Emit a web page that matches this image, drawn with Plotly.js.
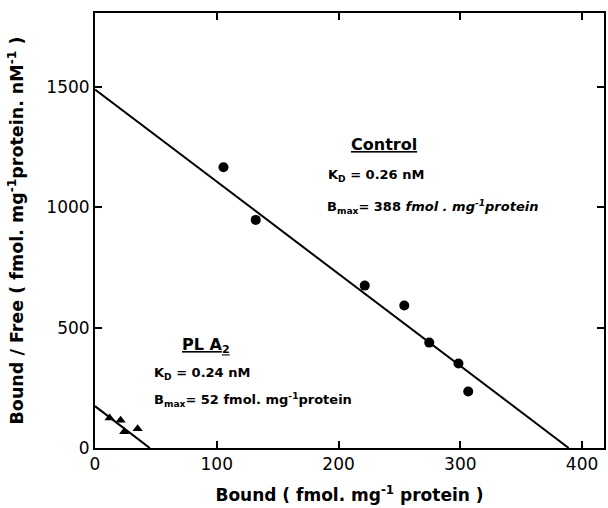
<!DOCTYPE html>
<html>
<head>
<meta charset="utf-8">
<script src="https://cdn.plot.ly/plotly-3.0.1.min.js"></script>
<style>html,body{margin:0;padding:0;background:#fff;}#chart{width:608px;height:508px;}</style>
</head>
<body>
<div id="chart"></div>
<script>
// Control data (Scatchard plot)
var controlBound = [105.5, 132, 221.5, 254, 274.5, 298.5, 306.5];
var controlBF    = [1167, 948, 675, 592, 438, 351, 235];
// Control fitted line endpoints
var controlLineX = [0, 389];
var controlLineY = [1490, 0];
// PL A2 data
var plaBound = [12, 21, 24, 35];
var plaBF    = [125, 115, 68, 80];
// PL A2 fitted line endpoints
var plaLineX = [0, 45];
var plaLineY = [174, 0];

var xTicks = [0, 100, 200, 300, 400];
var yTicks = [0, 500, 1000, 1500];

var FONT = "DejaVu Sans, sans-serif";

var traces = [
  {x: controlLineX, y: controlLineY, mode: 'lines', line: {color: '#000', width: 2}, hoverinfo: 'skip'},
  {x: plaLineX, y: plaLineY, mode: 'lines', line: {color: '#000', width: 2}, hoverinfo: 'skip'},
  {x: controlBound, y: controlBF, mode: 'markers', marker: {symbol: 'circle', size: 10, color: '#000'}},
  {x: plaBound, y: plaBF, mode: 'markers', marker: {symbol: 'triangle-up', size: 9, color: '#000'}}
];

var ann = function(x, y, text, size) {
  return {x: x, y: y, xref: 'x', yref: 'y', text: text, showarrow: false,
          xanchor: 'left', yanchor: 'middle', font: {family: FONT, size: size, color: '#000'}};
};

var layout = {
  width: 608, height: 508,
  margin: {l: 95, r: 4, t: 13, b: 60},
  paper_bgcolor: '#fff', plot_bgcolor: '#fff',
  showlegend: false,
  xaxis: {
    range: [0, 418], tickvals: xTicks, ticktext: xTicks.map(String),
    ticks: 'inside', ticklen: 7, tickwidth: 2, tickcolor: '#000',
    showline: true, linecolor: '#000', linewidth: 2, mirror: 'ticks',
    showgrid: false, zeroline: false,
    tickfont: {family: FONT, size: 17, color: '#000'},
    title: {text: '<b>Bound ( fmol. mg<sup>-1</sup> protein )</b>', font: {family: FONT, size: 17, color: '#000'}, standoff: 16}
  },
  yaxis: {
    range: [0, 1808], tickvals: yTicks, ticktext: yTicks.map(String),
    ticks: 'inside', ticklen: 7, tickwidth: 2, tickcolor: '#000',
    showline: true, linecolor: '#000', linewidth: 2, mirror: 'ticks',
    showgrid: false, zeroline: false,
    tickfont: {family: FONT, size: 17, color: '#000'},
    title: {text: '<b>Bound / Free ( fmol. mg<sup>-1</sup>protein. nM<sup>-1</sup> )</b>', font: {family: FONT, size: 17.5, color: '#000'}, standoff: 18}
  },
  annotations: [
    {x: 237, y: 1262, xref: 'x', yref: 'y', text: '<b><u>Control</u></b>', showarrow: false, xanchor: 'center', yanchor: 'middle', font: {family: FONT, size: 16, color: '#000'}},
    ann(190, 1134, '<b>K<sub>D</sub>&nbsp;=&nbsp;0.26 nM</b>', 13),
    ann(189, 1000, '<b>B<sub>max</sub>= 388 <i>fmol . mg<sup>-1</sup>protein</i></b>', 13),
    {x: 91, y: 428, xref: 'x', yref: 'y', text: '<b><u>PL A<sub>2</sub></u></b>', showarrow: false, xanchor: 'center', yanchor: 'middle', font: {family: FONT, size: 16, color: '#000'}},
    ann(47, 308, '<b>K<sub>D</sub>&nbsp;=&nbsp;0.24 nM</b>', 13),
    ann(47, 200, '<b>B<sub>max</sub>= 52 fmol. mg<sup>-1</sup>protein</b>', 13)
  ]
};

Plotly.newPlot('chart', traces, layout, {displayModeBar: false, staticPlot: true});
</script>
</body>
</html>
